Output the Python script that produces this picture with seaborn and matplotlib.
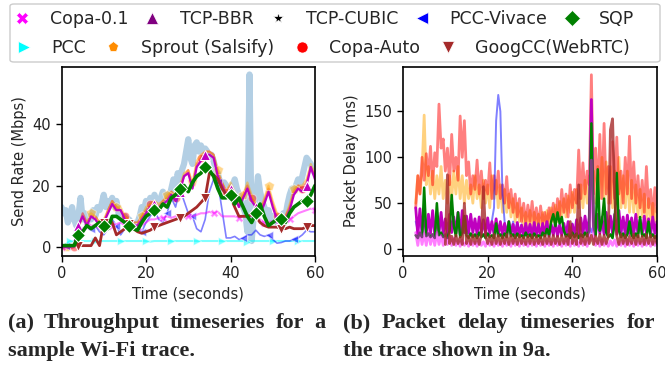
import numpy as np
import matplotlib
matplotlib.use("Agg")
import matplotlib.pyplot as plt
import seaborn as sns
from matplotlib.lines import Line2D
from matplotlib.patches import FancyBboxPatch

sns.set_style("ticks")
plt.rcParams['font.family'] = ['DejaVu Sans']
plt.rcParams['axes.edgecolor'] = 'black'
plt.rcParams['axes.linewidth'] = 1.2

# ---------------- data: throughput (Mbps), 1 s samples 0..60 ----------------
time_tput = np.arange(0, 61, 1.0)
time_link = np.arange(0, 60.01, 0.5)

link_capacity = [13, 11, 12, 8, 10, 13, 9, 7, 10, 16, 9, 11, 8, 10, 9, 12, 10, 13, 12, 14,
                 17, 13, 15, 14, 16, 13, 15, 11, 10, 9, 10, 8, 9, 8, 8, 7, 8, 10, 13, 12,
                 15, 13, 16, 14, 17, 15, 14, 16, 18, 15, 17, 16, 19, 22, 19, 24, 21, 25, 27, 31,
                 35, 29, 27, 33, 34, 31, 33, 30, 32, 31, 29, 30, 28, 25, 24, 21, 19, 21, 20, 17,
                 16, 20, 22, 19, 17, 15, 13, 11, 5, 56, 2, 10, 16, 23, 18, 15, 13, 11, 12, 9,
                 10, 9, 8, 10, 9, 11, 10, 14, 17, 19, 18, 20, 22, 20, 23, 26, 29, 28, 27, 25, 24]

tput_copa01 = [0, 0, 0, 0, 5, 6, 7, 7, 7, 6, 6, 7, 7, 7.5, 8, 7, 6, 6, 6.5, 7, 8, 9, 9, 9.5, 9.5,
               10, 9.5, 10, 10, 10.5, 10, 10, 10.5, 11, 11, 11.5, 11, 11.5, 10, 10, 10, 10, 9.5,
               10, 10.5, 10, 9.5, 9, 8, 8, 8.5, 8, 7, 8, 9, 10, 11, 11.5, 12, 12.5, 12]
tput_bbr = [0, 0, 0, 1, 7, 10, 7, 10, 9, 7, 8, 11, 14, 12, 12, 9, 8, 7, 7, 9, 11, 13, 14, 12, 14,
            15, 17, 15, 18, 23, 24, 19, 26, 28, 30, 30, 29, 23, 20, 17, 19, 16, 13, 16, 19, 15,
            13, 11, 14, 18, 13, 9, 8, 9, 12, 17, 19, 18, 20, 26, 22]
tput_vivace = [0.5, 0.5, 0.5, 0.5, 5, 5.5, 7, 6, 7, 5, 4, 6, 9, 7, 4, 6, 5.5, 6, 6, 5, 8, 10, 12,
               9, 8, 11, 16, 13, 19, 15, 11, 10, 6, 5, 9, 18, 22, 21, 12, 3, 3, 3.5, 2.5, 3, 4,
               4, 5.5, 4, 3.5, 4, 2.5, 1.3, 1.5, 2, 2, 2.5, 3, 4, 5.5, 5, 5]
tput_sqp = [0.5, 0.5, 0.5, 0.5, 4, 5, 7, 6, 7, 8, 7, 6, 10, 10, 9, 8, 7, 6, 5.5, 8, 10, 11, 12,
            12, 14, 13, 16, 17, 19, 20, 18, 21, 23, 24, 26, 25, 23, 19, 16, 16, 17, 14, 16, 13,
            10, 8, 11, 14, 10, 7, 8, 9, 9, 8, 11, 13, 14, 15, 15, 17, 20]
tput_pcc = [0, 1, 2, 2, 2, 2, 2, 2, 2, 2, 2, 2, 2, 2, 2, 2, 2, 2, 2, 2, 2, 1.8, 2, 2, 2, 2, 2,
            2, 2, 2, 2, 2, 2, 2, 2, 2, 2, 2, 2, 2, 2, 2, 2, 2, 1.8, 2, 2, 2, 2, 2, 2, 2, 2, 2,
            2, 2, 2, 2, 2, 2, 2]
tput_sprout = [0, 0, 0, 0.5, 6, 10, 8, 11, 10, 8, 9, 12, 15, 13, 13, 10, 9, 8, 8, 10, 13, 14,
               15, 14, 15, 17, 18, 17, 20, 24, 25, 21, 28, 30, 31, 31, 30, 25, 21, 18, 21, 18,
               15, 17, 21, 17, 14, 12, 16, 20, 15, 11, 10, 10, 14, 19, 20, 20, 22, 27, 24]
tput_copa_auto = [-0.5, -0.5, -0.5, 0, 6, 11, 8, 10, 10, 8, 8, 12, 15, 13, 12, 10, 9, 8, 8, 10,
                  12, 14, 15, 13, 15, 16, 18, 16, 19, 23, 25, 20, 27, 29, 31, 31, 30, 24, 21,
                  18, 20, 17, 14, 17, 20, 16, 14, 12, 15, 19, 14, 10, 9, 10, 13, 18, 20, 19, 21,
                  26, 23]
tput_googcc = [0.5, 0.5, 0.5, 0.5, 0.5, 0.5, 0.5, 0.5, 3, 0.5,
               8, 9, 8, 4, 5, 6, 7.5, 6, 5, 4.5, 5, 5.5, 6.5, 7, 7.5, 8, 8.5, 9, 9.5, 10, 11,
               12, 13, 14.5, 16,
               24, 23.5, 22, 19, 17, 16, 13, 10, 10, 10, 10.5, 10, 8, 7, 6.5, 6.5, 6.5, 6, 6,
               6.5, 6, 6, 6, 6.5, 7, 7]

# ---------------- data: packet delay (ms), 0.5 s samples ----------------
time_delay = np.arange(3, 60.01, 0.5)
time_delay_googcc = np.arange(10, 60.01, 0.5)

delay_sprout = [50, 80, 60, 85, 146, 70, 90, 60, 85, 55,
                80, 60, 90, 55, 75, 50, 80, 55, 85, 60,
                90, 55, 80, 50, 75, 55, 70, 50, 80, 55,
                70, 45, 75, 50, 70, 45, 80, 55, 75, 45,
                70, 40, 65, 40, 60, 35, 55, 30, 50, 30,
                45, 25, 40, 25, 42, 25, 40, 25, 38, 25,
                40, 25, 42, 28, 45, 30, 48, 30, 52, 35,
                55, 35, 58, 40, 62, 40, 65, 45, 70, 45,
                75, 50, 80, 55, 85, 50, 90, 55, 100, 55,
                95, 50, 90, 45, 85, 50, 100, 45, 80, 45,
                85, 40, 75, 40, 70, 35, 65, 35, 60, 30,
                55, 30, 50, 30, 45]
delay_copa_auto = [45, 80, 60, 100, 75, 104, 80, 112, 70, 105,
                   90, 158, 110, 120, 85, 110, 70, 125, 85, 100,
                   75, 145, 100, 140, 80, 95, 60, 80, 65, 97,
                   60, 85, 55, 75, 60, 94, 55, 80, 60, 85,
                   55, 70, 50, 79, 45, 65, 40, 60, 35, 55,
                   30, 50, 28, 48, 30, 52, 28, 45, 25, 47,
                   28, 40, 25, 45, 30, 50, 28, 55, 35, 65,
                   40, 60, 35, 70, 45, 65, 50, 108, 55, 94,
                   60, 85, 70, 190, 60, 110, 60, 125, 55, 137,
                   60, 90, 50, 117, 55, 122, 60, 85, 50, 100,
                   60, 123, 55, 95, 50, 80, 45, 75, 40, 90,
                   45, 65, 35, 67, 40]
delay_vivace = [30, 20, 32, 18, 30, 20, 31, 19, 29, 20,
                30, 19, 31, 20, 29, 18, 30, 20, 31, 19,
                30, 20, 29, 18, 31, 19, 30, 20, 29, 18,
                30, 19, 31, 20, 29, 18, 31, 45, 140, 168,
                150, 60, 30, 19, 29, 18, 30, 20, 28, 19,
                27, 18, 28, 17, 27, 18, 26, 17, 28, 18,
                27, 17, 28, 18, 26, 17, 27, 18, 28, 17,
                27, 18, 26, 17, 28, 18, 27, 17, 26, 18,
                28, 17, 27, 18, 26, 17, 28, 18, 27, 17,
                26, 18, 28, 17, 27, 18, 26, 17, 28, 18,
                27, 17, 26, 18, 28, 17, 27, 18, 26, 17,
                28, 18, 27, 17, 26]
delay_bbr = [45, 15, 44, 18, 40, 15, 38, 17, 42, 16,
             35, 18, 40, 17, 33, 16, 38, 18, 35, 17,
             40, 16, 42, 18, 36, 17, 38, 18, 33, 16,
             35, 17, 32, 16, 34, 17, 30, 16, 33, 15,
             30, 16, 28, 15, 30, 16, 27, 14, 29, 15,
             26, 14, 28, 15, 27, 14, 29, 15, 26, 14,
             28, 15, 30, 14, 27, 15, 29, 14, 26, 15,
             28, 14, 30, 15, 27, 14, 32, 15, 34, 16,
             36, 17, 35, 163, 30, 16, 38, 17, 35, 16,
             40, 18, 36, 17, 38, 16, 42, 18, 35, 16,
             37, 17, 34, 16, 38, 17, 32, 16, 36, 17,
             33, 16, 35, 17, 30]
delay_sqp = [15, 12, 18, 13, 67, 14, 17, 13, 16, 12,
             50, 15, 18, 13, 16, 12, 20, 59, 25, 14,
             40, 13, 18, 36, 15, 12, 17, 13, 16, 12,
             18, 13, 16, 12, 17, 13, 15, 12, 28, 14,
             16, 12, 17, 13, 30, 14, 16, 12, 17, 13,
             15, 12, 18, 13, 16, 12, 17, 13, 15, 12,
             18, 14, 22, 15, 30, 38, 25, 40, 28, 35,
             20, 14, 16, 12, 18, 13, 17, 12, 16, 13,
             18, 14, 20, 137, 25, 15, 87, 20, 30, 55,
             18, 13, 16, 12, 30, 83, 20, 13, 17, 12,
             16, 30, 15, 12, 17, 13, 35, 14, 16, 12,
             30, 13, 16, 12, 15]
delay_copa01 = [18, 4, 20, 5, 17, 4, 19, 5, 16, 4,
                18, 5, 15, 4, 17, 5, 14, 4, 12, 4,
                9, 3, 10, 4, 8, 3, 9, 4, 8, 3,
                10, 4, 8, 3, 9, 4, 8, 3, 9, 4,
                8, 3, 9, 4, 8, 3, 10, 4, 8, 3,
                9, 4, 8, 3, 9, 4, 8, 3, 10, 4,
                8, 3, 9, 4, 8, 3, 10, 4, 8, 3,
                9, 4, 11, 3, 10, 4, 9, 3, 12, 4,
                9, 3, 10, 97, 12, 4, 9, 3, 10, 4,
                8, 3, 9, 4, 10, 3, 8, 4, 9, 3,
                10, 4, 8, 3, 9, 4, 8, 3, 10, 4,
                9, 3, 8, 4, 9]
delay_googcc = [5, 81, 6, 14, 5, 15, 6, 13, 5, 50,
                6, 14, 5, 15, 6, 14, 5, 16, 68, 15,
                6, 14, 5, 16, 6, 15, 5, 14, 6, 16,
                5, 15, 6, 14, 5, 15, 6, 13, 5, 14,
                6, 15, 5, 14, 6, 13, 5, 15, 6, 14,
                5, 15, 6, 14, 5, 15, 6, 14, 5, 30,
                6, 15, 5, 70, 6, 15, 5, 16, 6, 15,
                5, 14, 6, 16, 5, 15, 6, 14, 130, 142,
                60, 14, 5, 16, 6, 15, 5, 14, 6, 16,
                5, 15, 6, 14, 5, 16, 6, 15, 5, 14,
                6]

# ---------------- styles ----------------
C_COPA01 = '#ff00ff'
C_BBR = '#bf00bf'
C_VIVACE = 'blue'
C_SQP = 'green'
C_PCC = 'cyan'
C_SPROUT = 'orange'
C_COPA_AUTO = 'red'
C_GOOGCC = 'brown'
C_LINK = '#b3cfe4'

W, H = 665, 367
fig = plt.figure(figsize=(W / 100, H / 100), dpi=100)
axL = fig.add_axes([61.5 / W, 1 - 255.5 / H, 253.5 / W, 189 / H])
axR = fig.add_axes([403 / W, 1 - 255.5 / H, 254 / W, 189 / H])


def line(ax, x, y, color, lw, alpha=1.0, marker=None, ms=6, every=None, zorder=2):
    kw = dict(x=x, y=y, ax=ax, color=color, lw=lw, alpha=alpha, legend=False,
              estimator=None, sort=False, zorder=zorder)
    if marker is not None:
        kw.update(marker=marker, ms=ms, markevery=every)
    sns.lineplot(**kw)


# throughput panel
line(axL, time_link, link_capacity, C_LINK, 4.5, zorder=1)
line(axL, time_tput, tput_copa_auto, C_COPA_AUTO, 1.5, 0.45, 'o', 6, (3, 6))
line(axL, time_tput, tput_sprout, C_SPROUT, 1.5, 0.45, 'p', 7, (1, 6))
line(axL, time_tput, tput_pcc, C_PCC, 1.5, 0.5, '>', 6, (2, 6))
line(axL, time_tput, tput_vivace, C_VIVACE, 1.2, 0.5, '<', 6, (1, 6))
line(axL, time_tput, tput_copa01, C_COPA01, 1.5, 0.5, 'X', 6, (0, 6))
line(axL, time_tput, tput_bbr, C_BBR, 1.6, 1.0, '^', 7, (4, 6))
line(axL, time_tput, tput_googcc, C_GOOGCC, 2.0, 1.0, 'v', 7, (4, 6))
line(axL, time_tput, tput_sqp, C_SQP, 2.6, 1.0, 'D', 7, (4, 6))

axL.set_xlim(0, 60)
axL.set_ylim(-2.7, 58.6)
axL.set_xticks([0, 20, 40, 60])
axL.set_yticks([0, 20, 40])
axL.set_xlabel('Time (seconds)', fontsize=10.5)
axL.set_ylabel('Send Rate (Mbps)', fontsize=10.5)

# delay panel
line(axR, time_delay, delay_sprout, C_SPROUT, 2.0, 0.5)
line(axR, time_delay, delay_copa_auto, C_COPA_AUTO, 2.0, 0.5)
line(axR, time_delay, delay_vivace, C_VIVACE, 1.4, 0.5)
line(axR, time_delay, delay_bbr, C_BBR, 2.0, 1.0)
line(axR, time_delay, delay_sqp, C_SQP, 1.8, 1.0)
line(axR, time_delay, delay_copa01, C_COPA01, 2.0, 0.5)
line(axR, time_delay_googcc, delay_googcc, C_GOOGCC, 2.0, 0.8)

axR.set_xlim(0, 60)
axR.set_ylim(-7, 199)
axR.set_xticks([0, 20, 40, 60])
axR.set_yticks([0, 50, 100, 150])
axR.set_xlabel('Time (seconds)', fontsize=10.5)
axR.set_ylabel('Packet Delay (ms)', fontsize=10.5)

for ax in (axL, axR):
    for s in ax.spines.values():
        s.set_visible(True)
        s.set_color('black')
        s.set_linewidth(1.2)
    ax.tick_params(labelsize=10.5, length=4, width=1.0, colors='black', labelcolor='#222222')

# ---------------- legend ----------------
legend_labels_row1 = ['Copa-0.1', 'TCP-BBR', 'TCP-CUBIC', 'PCC-Vivace', 'SQP']
legend_labels_row2 = ['PCC', 'Sprout (Salsify)', 'Copa-Auto', 'GoogCC(WebRTC)']
style = {
    'Copa-0.1': ('X', C_COPA01, 8), 'TCP-BBR': ('^', 'purple', 8),
    'TCP-CUBIC': ('*', 'black', 8), 'PCC-Vivace': ('<', 'blue', 8),
    'SQP': ('D', 'green', 8), 'PCC': ('>', 'cyan', 8),
    'Sprout (Salsify)': ('p', 'darkorange', 8), 'Copa-Auto': ('o', 'red', 8),
    'GoogCC(WebRTC)': ('v', 'brown', 8),
}


def handles(labels):
    return [Line2D([], [], ls='none', marker=style[l][0], color=style[l][1],
                   ms=style[l][2], mec='white', mew=0.5, label=l) for l in labels]


frame = FancyBboxPatch((10 / W, 1 - 62 / H), 650 / W, 58 / H,
                       boxstyle='round,pad=0,rounding_size=0.006',
                       transform=fig.transFigure, fc='white', ec='#cccccc', lw=1.0,
                       zorder=0)
fig.patches.append(frame)

common = dict(frameon=False, fontsize=12.5, handlelength=1.0, handletextpad=1.1,
              borderpad=0, borderaxespad=0, loc='upper left')
fig.legend(handles=handles(legend_labels_row1), ncol=5, columnspacing=0.88,
           bbox_to_anchor=(13.3 / W, 1 - 10 / H), **common)
fig.legend(handles=handles(legend_labels_row2), ncol=4, columnspacing=1.07,
           bbox_to_anchor=(15 / W, 1 - 39 / H), **common)

# ---------------- captions ----------------
cap_kw = dict(fontsize=16, fontweight='bold', family=['Liberation Serif', 'DejaVu Serif'],
              va='center', ha='left')


def justified(words, x0, x1, y):
    r = fig.canvas.get_renderer()
    texts = [fig.text(0, 1 - y / H, w, **cap_kw) for w in words]
    widths = [t.get_window_extent(r).width for t in texts]
    gap = (x1 - x0 - sum(widths)) / (len(words) - 1)
    x = x0
    for t, w in zip(texts, widths):
        t.set_x(x / W)
        x += w + gap


justified('(a) Throughput timeseries for a'.split(), 8, 325, 323)
fig.text(8 / W, 1 - 351 / H, 'sample Wi-Fi trace.', **cap_kw)
justified('(b) Packet delay timeseries for'.split(), 343, 655, 323)
fig.text(343 / W, 1 - 351 / H, 'the trace shown in 9a.', **cap_kw)

fig.savefig('out.png', dpi=100)
